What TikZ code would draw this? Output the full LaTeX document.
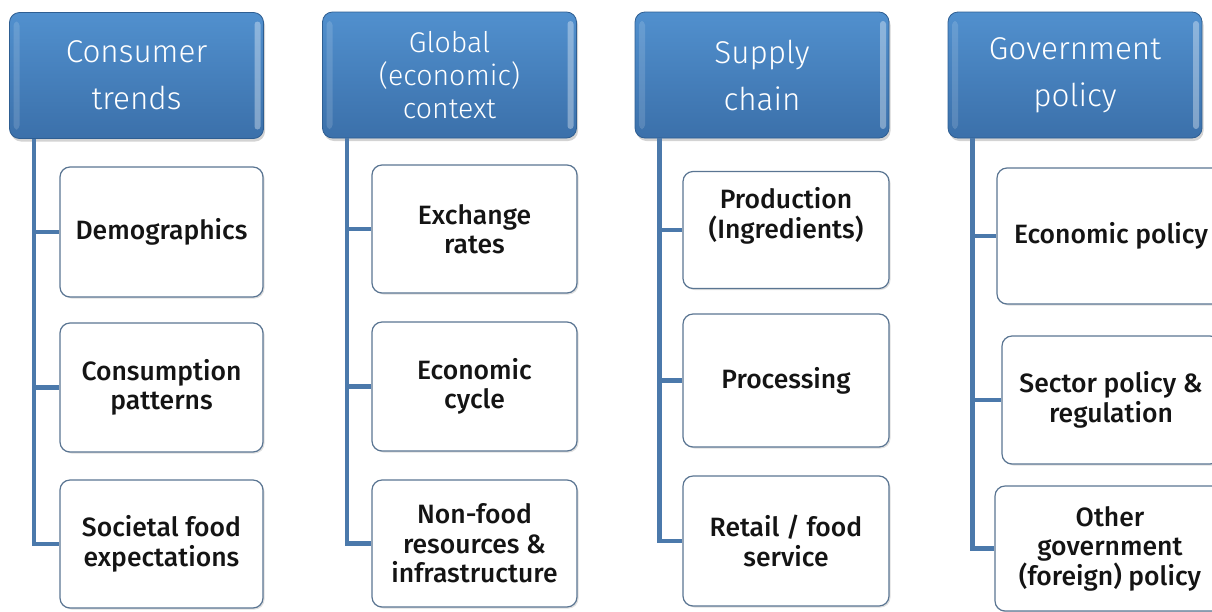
\documentclass[tikz,border=0pt]{standalone}
\usepackage{fontspec}
\setmainfont{Fira Sans}
\newfontfamily\headfont{Fira Sans Light}
\newfontfamily\childfont{Fira Sans Medium}
\usetikzlibrary{shadows}

\definecolor{hdtop}{HTML}{5190CE}
\definecolor{hdbot}{HTML}{3B70AA}
\definecolor{hdedge}{HTML}{2E5E92}
\definecolor{linkblue}{HTML}{4B79AB}
\definecolor{childedge}{HTML}{5A7592}

\tikzset{
  header/.style={rounded corners=10pt, draw=hdedge, line width=0.8pt,
    top color=hdtop, bottom color=hdbot, text=white,
    font=\headfont\fontsize{31.5}{47}\selectfont, align=center,
    minimum width=254pt, minimum height=126pt, inner sep=0pt,
    drop shadow={shadow xshift=1.5pt, shadow yshift=-3pt, opacity=0.35},
    path picture={
      \fill[white, opacity=0.14, rounded corners=4pt]
        ([xshift=4pt,yshift=-9pt]path picture bounding box.north west) rectangle
        ([xshift=10pt,yshift=9pt]path picture bounding box.south west);
      \fill[white, opacity=0.35, rounded corners=3pt]
        ([xshift=-3pt,yshift=-9pt]path picture bounding box.north east) rectangle
        ([xshift=-9pt,yshift=9pt]path picture bounding box.south east);
    }},
  tighthead/.style={font=\headfont\fontsize{28.5}{33}\selectfont},
  child/.style={rounded corners=10pt, draw=childedge, line width=1.2pt,
    fill=white, text=black!92,
    font=\childfont\fontsize{26.5}{29.5}\selectfont, align=center,
    inner sep=0pt,
    drop shadow={shadow xshift=1.5pt, shadow yshift=-1.5pt, opacity=0.25}},
  link/.style={draw=linkblue, line width=4.5pt}
}

\begin{document}
\begin{tikzpicture}[x=1pt, y=-1pt]
\useasboundingbox (0,0) rectangle (1212,611);

% headers
\node[header] (h1) at (136.5,75.5) {Consumer\\trends};
\node[header, tighthead] (h2) at (449.5,75) {Global\\(economic)\\context};
\node[header] (h3) at (762,75) {Supply\\chain};
\node[header] (h4) at (1075,75) {Government\\policy};

% consumer trends
\node[child, minimum width=203pt, minimum height=130pt] (c11) at (161.5,232) {Demographics};
\node[child, minimum width=203pt, minimum height=129pt] (c12) at (161.5,387.5) {Consumption\\patterns};
\node[child, minimum width=203pt, minimum height=128pt] (c13) at (161.5,544) {Societal food\\expectations};

% global context
\node[child, minimum width=205pt, minimum height=128pt] (c21) at (474.5,229) {Exchange\\rates};
\node[child, minimum width=205pt, minimum height=129pt] (c22) at (474.5,386.5) {Economic\\cycle};
\node[child, minimum width=205pt, minimum height=127pt] (c23) at (474.5,543.5) {Non-food\\resources \&\\infrastructure};

% supply chain
\node[child, minimum width=206pt, minimum height=117pt, text depth=34pt] (c31) at (786,230) {Production\\(Ingredients)};
\node[child, minimum width=206pt, minimum height=133pt] (c32) at (786,380.5) {Processing};
\node[child, minimum width=206pt, minimum height=130pt] (c33) at (786,541) {Retail / food\\service};

% government policy
\node[child, minimum width=228pt, minimum height=136pt] (c41) at (1111,236) {Economic policy};
\node[child, minimum width=218pt, minimum height=128pt] (c42) at (1111,400) {Sector policy \&\\regulation};
\node[child, minimum width=230pt, minimum height=125pt] (c43) at (1110,548.5) {Other\\government\\(foreign) policy};

% tree connectors
\foreach \k in {1,2,3,4}{
  \coordinate (j\k) at ([xshift=25pt]h\k.south west);
  \draw[link] (j\k) |- (c\k3.west);
  \draw[link] (j\k |- c\k1.west) -- (c\k1.west);
  \draw[link] (j\k |- c\k2.west) -- (c\k2.west);
}
\end{tikzpicture}
\end{document}
